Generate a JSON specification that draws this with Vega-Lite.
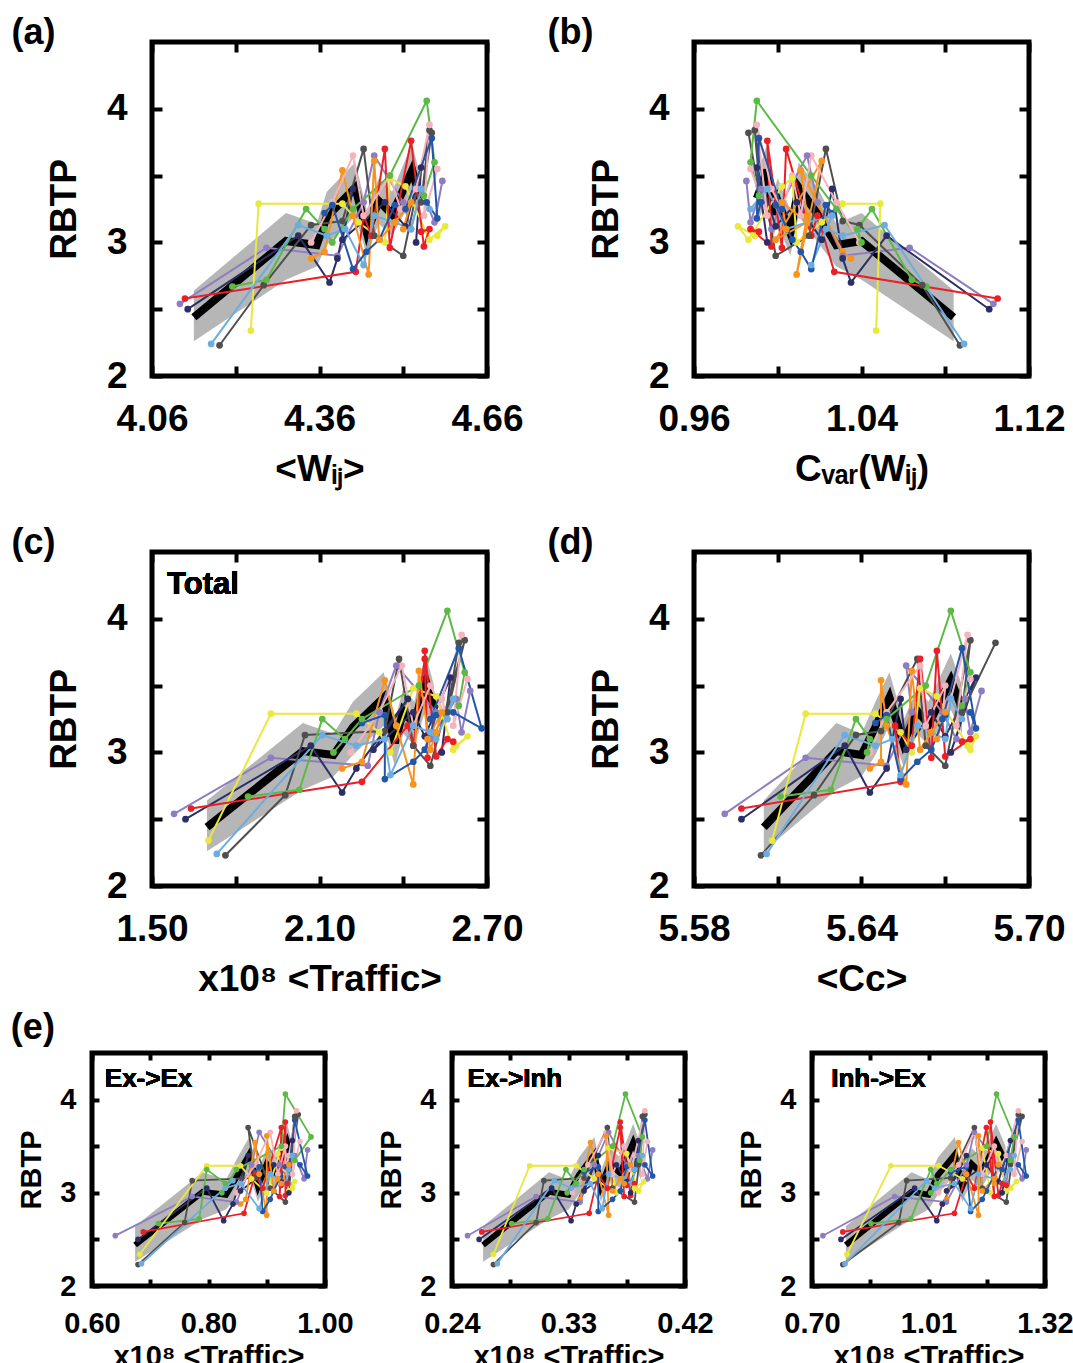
{
"$schema": "https://vega.github.io/schema/vega-lite/v6.json",
"background": "white",
"padding": {"left": 8, "top": 12, "right": 0, "bottom": 0},
"config": {
  "view": {"stroke": "black", "strokeWidth": 5},
  "font": "Liberation Sans",
  "axis": {"labelFont": "Liberation Sans", "titleFont": "Liberation Sans", "labelFontWeight": "bold", "titleFontWeight": "bold", "labelColor": "black", "titleColor": "black", "grid": false, "domain": false, "tickColor": "black", "tickWidth": 4, "tickSize": -10, "labelFlush": false, "labelOverlap": false, "labelFontSize": 37, "titleFontSize": 37, "minExtent": 0},
  "axisX": {"labelPadding": 35, "titlePadding": 14},
  "axisY": {"labelPadding": 35, "titlePadding": 23},
  "title": {"font": "Liberation Sans", "fontWeight": "bold", "color": "black"}
},
"datasets": {
"s": [
{"s":"purple","d":1,"y":2.54,"xa":4.110,"xb":1.103,"xc":1.579,"xd":5.591,"x1":0.640,"x2":0.252,"x3":0.729},
{"s":"purple","d":2,"y":2.96,"xa":4.265,"xb":1.063,"xc":1.926,"xd":5.620,"x1":0.772,"x2":0.305,"x3":0.920},
{"s":"purple","d":3,"y":2.90,"xa":4.392,"xb":1.031,"xc":2.273,"xd":5.649,"x1":0.848,"x2":0.339,"x3":1.058},
{"s":"purple","d":4,"y":3.30,"xa":4.439,"xb":1.019,"xc":2.314,"xd":5.658,"x1":0.874,"x2":0.350,"x3":1.111},
{"s":"purple","d":5,"y":3.65,"xa":4.458,"xb":1.014,"xc":2.375,"xd":5.656,"x1":0.887,"x2":0.361,"x3":1.132},
{"s":"purple","d":6,"y":3.30,"xa":4.510,"xb":1.002,"xc":2.518,"xd":5.669,"x1":0.922,"x2":0.375,"x3":1.196},
{"s":"purple","d":7,"y":3.10,"xa":4.524,"xb":0.997,"xc":2.497,"xd":5.674,"x1":0.938,"x2":0.378,"x3":1.217},
{"s":"purple","d":8,"y":3.40,"xa":4.542,"xb":0.992,"xc":2.589,"xd":5.677,"x1":0.948,"x2":0.384,"x3":1.228},
{"s":"purple","d":9,"y":3.15,"xa":4.566,"xb":0.987,"xc":2.609,"xd":5.679,"x1":0.964,"x2":0.391,"x3":1.259},
{"s":"purple","d":10,"y":3.46,"xa":4.580,"xb":0.985,"xc":2.640,"xd":5.683,"x1":0.970,"x2":0.395,"x3":1.270},
{"s":"navy","d":1,"y":2.50,"xa":4.124,"xb":1.101,"xc":1.620,"xd":5.597,"x1":0.679,"x2":0.261,"x3":0.777},
{"s":"navy","d":2,"y":3.05,"xa":4.322,"xb":1.052,"xc":2.069,"xd":5.634,"x1":0.797,"x2":0.317,"x3":0.973},
{"s":"navy","d":3,"y":2.70,"xa":4.378,"xb":1.035,"xc":2.181,"xd":5.643,"x1":0.826,"x2":0.332,"x3":1.032},
{"s":"navy","d":4,"y":2.88,"xa":4.392,"xb":1.031,"xc":2.232,"xd":5.649,"x1":0.842,"x2":0.336,"x3":1.047},
{"s":"navy","d":5,"y":3.40,"xa":4.420,"xb":1.026,"xc":2.416,"xd":5.654,"x1":0.868,"x2":0.353,"x3":1.111},
{"s":"navy","d":6,"y":3.02,"xa":4.401,"xb":1.021,"xc":2.293,"xd":5.656,"x1":0.855,"x2":0.342,"x3":1.058},
{"s":"navy","d":7,"y":3.30,"xa":4.477,"xb":1.009,"xc":2.436,"xd":5.665,"x1":0.912,"x2":0.367,"x3":1.164},
{"s":"navy","d":8,"y":3.12,"xa":4.514,"xb":0.999,"xc":2.477,"xd":5.670,"x1":0.925,"x2":0.375,"x3":1.196},
{"s":"navy","d":9,"y":3.56,"xa":4.542,"xb":0.990,"xc":2.569,"xd":5.681,"x1":0.944,"x2":0.384,"x3":1.228},
{"s":"navy","d":10,"y":3.00,"xa":4.533,"xb":0.995,"xc":2.538,"xd":5.672,"x1":0.938,"x2":0.378,"x3":1.206},
{"s":"dgray","d":1,"y":2.23,"xa":4.181,"xb":1.087,"xc":1.763,"xd":5.604,"x1":0.679,"x2":0.272,"x3":0.782},
{"s":"dgray","d":2,"y":2.68,"xa":4.260,"xb":1.069,"xc":1.977,"xd":5.623,"x1":0.759,"x2":0.305,"x3":0.931},
{"s":"dgray","d":3,"y":3.13,"xa":4.345,"xb":1.039,"xc":2.048,"xd":5.638,"x1":0.772,"x2":0.311,"x3":0.952},
{"s":"dgray","d":4,"y":3.16,"xa":4.401,"xb":1.031,"xc":2.334,"xd":5.647,"x1":0.880,"x2":0.342,"x3":1.069},
{"s":"dgray","d":5,"y":3.70,"xa":4.439,"xb":1.023,"xc":2.385,"xd":5.660,"x1":0.868,"x2":0.360,"x3":1.132},
{"s":"dgray","d":6,"y":3.05,"xa":4.458,"xb":1.015,"xc":2.436,"xd":5.663,"x1":0.906,"x2":0.364,"x3":1.153},
{"s":"dgray","d":7,"y":2.90,"xa":4.510,"xb":0.999,"xc":2.497,"xd":5.670,"x1":0.932,"x2":0.381,"x3":1.217},
{"s":"dgray","d":8,"y":3.84,"xa":4.557,"xb":0.989,"xc":2.620,"xd":5.679,"x1":0.954,"x2":0.389,"x3":1.249},
{"s":"dgray","d":9,"y":3.30,"xa":4.542,"xb":0.992,"xc":2.558,"xd":5.676,"x1":0.938,"x2":0.384,"x3":1.228},
{"s":"dgray","d":10,"y":3.82,"xa":4.561,"xb":0.986,"xc":2.599,"xd":5.688,"x1":0.948,"x2":0.387,"x3":1.259},
{"s":"green","d":1,"y":2.67,"xa":4.204,"xb":1.071,"xc":1.844,"xd":5.611,"x1":0.714,"x2":0.286,"x3":0.857},
{"s":"green","d":2,"y":2.72,"xa":4.265,"xb":1.064,"xc":2.028,"xd":5.629,"x1":0.784,"x2":0.314,"x3":0.963},
{"s":"green","d":3,"y":3.25,"xa":4.336,"xb":1.045,"xc":2.110,"xd":5.638,"x1":0.797,"x2":0.328,"x3":1.016},
{"s":"green","d":4,"y":3.10,"xa":4.369,"xb":1.038,"xc":2.191,"xd":5.643,"x1":0.829,"x2":0.336,"x3":1.032},
{"s":"green","d":5,"y":3.00,"xa":4.383,"xb":1.040,"xc":2.150,"xd":5.642,"x1":0.823,"x2":0.329,"x3":1.016},
{"s":"green","d":6,"y":3.25,"xa":4.420,"xb":1.028,"xc":2.252,"xd":5.649,"x1":0.848,"x2":0.342,"x3":1.069},
{"s":"green","d":7,"y":3.50,"xa":4.486,"xb":1.016,"xc":2.456,"xd":5.663,"x1":0.925,"x2":0.364,"x3":1.164},
{"s":"green","d":8,"y":4.06,"xa":4.552,"xb":0.990,"xc":2.558,"xd":5.672,"x1":0.932,"x2":0.374,"x3":1.191},
{"s":"green","d":9,"y":3.60,"xa":4.566,"xb":0.987,"xc":2.620,"xd":5.679,"x1":0.976,"x2":0.387,"x3":1.238},
{"s":"green","d":10,"y":3.35,"xa":4.547,"xb":0.991,"xc":2.599,"xd":5.676,"x1":0.948,"x2":0.385,"x3":1.228},
{"s":"yellow","d":1,"y":2.34,"xa":4.237,"xb":1.047,"xc":1.702,"xd":5.608,"x1":0.682,"x2":0.272,"x3":0.793},
{"s":"yellow","d":2,"y":3.29,"xa":4.251,"xb":1.049,"xc":1.926,"xd":5.620,"x1":0.797,"x2":0.300,"x3":0.910},
{"s":"yellow","d":3,"y":3.29,"xa":4.401,"xb":1.031,"xc":2.232,"xd":5.645,"x1":0.855,"x2":0.336,"x3":1.037},
{"s":"yellow","d":4,"y":3.15,"xa":4.430,"xb":1.021,"xc":2.314,"xd":5.654,"x1":0.874,"x2":0.350,"x3":1.100},
{"s":"yellow","d":5,"y":3.00,"xa":4.477,"xb":1.009,"xc":2.354,"xd":5.658,"x1":0.900,"x2":0.367,"x3":1.175},
{"s":"yellow","d":6,"y":3.48,"xa":4.486,"xb":1.007,"xc":2.436,"xd":5.661,"x1":0.925,"x2":0.361,"x3":1.153},
{"s":"yellow","d":7,"y":3.42,"xa":4.514,"xb":1.002,"xc":2.518,"xd":5.667,"x1":0.919,"x2":0.375,"x3":1.196},
{"s":"yellow","d":8,"y":3.02,"xa":4.557,"xb":0.986,"xc":2.579,"xd":5.679,"x1":0.938,"x2":0.384,"x3":1.217},
{"s":"yellow","d":9,"y":3.12,"xa":4.585,"xb":0.981,"xc":2.630,"xd":5.681,"x1":0.948,"x2":0.388,"x3":1.244},
{"s":"yellow","d":10,"y":3.05,"xa":4.571,"xb":0.989,"xc":2.589,"xd":5.678,"x1":0.944,"x2":0.381,"x3":1.228},
{"s":"red","d":1,"y":2.58,"xa":4.119,"xb":1.105,"xc":1.640,"xd":5.597,"x1":0.688,"x2":0.263,"x3":0.782},
{"s":"red","d":2,"y":2.78,"xa":4.425,"xb":1.027,"xc":2.252,"xd":5.654,"x1":0.861,"x2":0.346,"x3":1.079},
{"s":"red","d":3,"y":3.20,"xa":4.439,"xb":1.019,"xc":2.416,"xd":5.652,"x1":0.880,"x2":0.353,"x3":1.111},
{"s":"red","d":4,"y":3.05,"xa":4.453,"xb":1.016,"xc":2.436,"xd":5.658,"x1":0.893,"x2":0.360,"x3":1.132},
{"s":"red","d":5,"y":3.70,"xa":4.477,"xb":1.004,"xc":2.477,"xd":5.661,"x1":0.925,"x2":0.370,"x3":1.164},
{"s":"red","d":6,"y":2.96,"xa":4.486,"xb":1.002,"xc":2.487,"xd":5.665,"x1":0.922,"x2":0.373,"x3":1.185},
{"s":"red","d":7,"y":3.76,"xa":4.524,"xb":0.995,"xc":2.477,"xd":5.667,"x1":0.932,"x2":0.370,"x3":1.175},
{"s":"red","d":8,"y":2.97,"xa":4.547,"xb":0.997,"xc":2.518,"xd":5.670,"x1":0.932,"x2":0.378,"x3":1.196},
{"s":"red","d":9,"y":3.10,"xa":4.557,"xb":0.987,"xc":2.558,"xd":5.679,"x1":0.935,"x2":0.381,"x3":1.206},
{"s":"red","d":10,"y":3.08,"xa":4.542,"xb":0.991,"xc":2.579,"xd":5.676,"x1":0.925,"x2":0.375,"x3":1.217},
{"s":"orange","d":1,"y":2.88,"xa":4.345,"xb":1.035,"xc":2.181,"xd":5.643,"x1":0.855,"x2":0.336,"x3":1.047},
{"s":"orange","d":2,"y":2.93,"xa":4.369,"xb":1.031,"xc":2.252,"xd":5.647,"x1":0.864,"x2":0.339,"x3":1.058},
{"s":"orange","d":3,"y":3.54,"xa":4.401,"xb":1.011,"xc":2.334,"xd":5.647,"x1":0.880,"x2":0.347,"x3":1.090},
{"s":"orange","d":4,"y":3.20,"xa":4.420,"xb":1.014,"xc":2.375,"xd":5.649,"x1":0.887,"x2":0.353,"x3":1.111},
{"s":"orange","d":5,"y":2.76,"xa":4.448,"xb":1.009,"xc":2.436,"xd":5.656,"x1":0.900,"x2":0.361,"x3":1.143},
{"s":"orange","d":6,"y":3.61,"xa":4.458,"xb":1.021,"xc":2.456,"xd":5.658,"x1":0.900,"x2":0.359,"x3":1.143},
{"s":"orange","d":7,"y":3.02,"xa":4.467,"xb":0.999,"xc":2.497,"xd":5.661,"x1":0.912,"x2":0.364,"x3":1.153},
{"s":"orange","d":8,"y":3.15,"xa":4.495,"xb":1.014,"xc":2.518,"xd":5.665,"x1":0.919,"x2":0.370,"x3":1.185},
{"s":"orange","d":9,"y":3.30,"xa":4.524,"xb":1.002,"xc":2.538,"xd":5.670,"x1":0.938,"x2":0.378,"x3":1.196},
{"s":"orange","d":10,"y":3.10,"xa":4.510,"xb":1.004,"xc":2.487,"xd":5.667,"x1":0.925,"x2":0.373,"x3":1.185},
{"s":"pink","d":1,"y":3.00,"xa":4.345,"xb":1.039,"xc":2.212,"xd":5.643,"x1":0.848,"x2":0.333,"x3":1.037},
{"s":"pink","d":2,"y":3.30,"xa":4.383,"xb":1.028,"xc":2.314,"xd":5.649,"x1":0.880,"x2":0.345,"x3":1.090},
{"s":"pink","d":3,"y":3.65,"xa":4.420,"xb":1.016,"xc":2.395,"xd":5.661,"x1":0.906,"x2":0.359,"x3":1.132},
{"s":"pink","d":4,"y":3.20,"xa":4.439,"xb":1.011,"xc":2.436,"xd":5.663,"x1":0.919,"x2":0.364,"x3":1.153},
{"s":"pink","d":5,"y":3.50,"xa":4.486,"xb":1.007,"xc":2.497,"xd":5.670,"x1":0.932,"x2":0.373,"x3":1.185},
{"s":"pink","d":6,"y":3.25,"xa":4.505,"xb":1.002,"xc":2.558,"xd":5.669,"x1":0.932,"x2":0.378,"x3":1.196},
{"s":"pink","d":7,"y":3.40,"xa":4.533,"xb":0.997,"xc":2.538,"xd":5.672,"x1":0.938,"x2":0.381,"x3":1.217},
{"s":"pink","d":8,"y":3.88,"xa":4.557,"xb":0.990,"xc":2.609,"xd":5.678,"x1":0.951,"x2":0.389,"x3":1.249},
{"s":"pink","d":9,"y":3.20,"xa":4.547,"xb":0.995,"xc":2.579,"xd":5.674,"x1":0.944,"x2":0.387,"x3":1.238},
{"s":"pink","d":10,"y":3.55,"xa":4.571,"xb":0.987,"xc":2.630,"xd":5.679,"x1":0.957,"x2":0.391,"x3":1.259},
{"s":"lblue","d":1,"y":2.24,"xa":4.166,"xb":1.089,"xc":1.732,"xd":5.606,"x1":0.685,"x2":0.275,"x3":0.788},
{"s":"lblue","d":2,"y":3.13,"xa":4.322,"xb":1.051,"xc":2.110,"xd":5.634,"x1":0.842,"x2":0.319,"x3":1.005},
{"s":"lblue","d":3,"y":3.05,"xa":4.373,"xb":1.031,"xc":2.232,"xd":5.645,"x1":0.829,"x2":0.332,"x3":1.026},
{"s":"lblue","d":4,"y":3.10,"xa":4.406,"xb":1.023,"xc":2.334,"xd":5.651,"x1":0.855,"x2":0.347,"x3":1.079},
{"s":"lblue","d":5,"y":2.83,"xa":4.439,"xb":1.016,"xc":2.354,"xd":5.654,"x1":0.887,"x2":0.356,"x3":1.122},
{"s":"lblue","d":6,"y":3.20,"xa":4.458,"xb":1.026,"xc":2.436,"xd":5.660,"x1":0.906,"x2":0.361,"x3":1.143},
{"s":"lblue","d":7,"y":3.15,"xa":4.495,"xb":1.014,"xc":2.497,"xd":5.665,"x1":0.919,"x2":0.373,"x3":1.185},
{"s":"lblue","d":8,"y":3.10,"xa":4.524,"xb":1.004,"xc":2.518,"xd":5.670,"x1":0.932,"x2":0.378,"x3":1.206},
{"s":"lblue","d":9,"y":3.40,"xa":4.542,"xb":0.995,"xc":2.579,"xd":5.672,"x1":0.944,"x2":0.387,"x3":1.238},
{"s":"lblue","d":10,"y":3.25,"xa":4.557,"xb":0.987,"xc":2.558,"xd":5.676,"x1":0.938,"x2":0.381,"x3":1.228},
{"s":"blue","d":1,"y":3.22,"xa":4.369,"xb":1.026,"xc":2.252,"xd":5.645,"x1":0.880,"x2":0.342,"x3":1.069},
{"s":"blue","d":2,"y":3.28,"xa":4.383,"xb":1.023,"xc":2.334,"xd":5.649,"x1":0.887,"x2":0.353,"x3":1.111},
{"s":"blue","d":3,"y":2.80,"xa":4.420,"xb":1.016,"xc":2.334,"xd":5.654,"x1":0.893,"x2":0.353,"x3":1.122},
{"s":"blue","d":4,"y":2.93,"xa":4.444,"xb":1.011,"xc":2.436,"xd":5.660,"x1":0.906,"x2":0.364,"x3":1.153},
{"s":"blue","d":5,"y":3.02,"xa":4.467,"xb":1.007,"xc":2.477,"xd":5.665,"x1":0.912,"x2":0.370,"x3":1.164},
{"s":"blue","d":6,"y":3.28,"xa":4.495,"xb":0.999,"xc":2.518,"xd":5.670,"x1":0.932,"x2":0.375,"x3":1.196},
{"s":"blue","d":7,"y":3.25,"xa":4.514,"xb":1.002,"xc":2.497,"xd":5.669,"x1":0.938,"x2":0.381,"x3":1.206},
{"s":"blue","d":8,"y":3.78,"xa":4.561,"xb":0.991,"xc":2.599,"xd":5.676,"x1":0.948,"x2":0.389,"x3":1.249},
{"s":"blue","d":9,"y":3.18,"xa":4.571,"xb":0.990,"xc":2.681,"xd":5.681,"x1":0.970,"x2":0.395,"x3":1.270},
{"s":"blue","d":10,"y":3.30,"xa":4.552,"xb":0.992,"xc":2.579,"xd":5.679,"x1":0.957,"x2":0.389,"x3":1.249}
],
"m": [
{"d":1,"y":2.44,"lo":2.26,"hi":2.64,"xa":4.135,"xb":1.084,"xc":1.697,"xd":5.605,"x1":0.674,"x2":0.264,"x3":0.790},
{"d":2,"y":3.01,"lo":2.72,"hi":3.22,"xa":4.300,"xb":1.040,"xc":2.040,"xd":5.631,"x1":0.790,"x2":0.315,"x3":0.965},
{"d":3,"y":2.98,"lo":2.82,"hi":3.14,"xa":4.355,"xb":1.028,"xc":2.150,"xd":5.640,"x1":0.830,"x2":0.330,"x3":1.010},
{"d":4,"y":3.19,"lo":2.98,"hi":3.38,"xa":4.373,"xb":1.020,"xc":2.220,"xd":5.645,"x1":0.850,"x2":0.338,"x3":1.035},
{"d":5,"y":3.41,"lo":3.20,"hi":3.60,"xa":4.424,"xb":1.010,"xc":2.330,"xd":5.650,"x1":0.870,"x2":0.350,"x3":1.080},
{"d":6,"y":3.07,"lo":2.90,"hi":3.24,"xa":4.445,"xb":1.006,"xc":2.370,"xd":5.655,"x1":0.885,"x2":0.355,"x3":1.100},
{"d":7,"y":3.31,"lo":3.14,"hi":3.48,"xa":4.466,"xb":1.000,"xc":2.400,"xd":5.660,"x1":0.900,"x2":0.362,"x3":1.125},
{"d":8,"y":3.21,"lo":3.05,"hi":3.38,"xa":4.490,"xb":0.998,"xc":2.440,"xd":5.664,"x1":0.915,"x2":0.370,"x3":1.150},
{"d":9,"y":3.54,"lo":3.32,"hi":3.74,"xa":4.526,"xb":0.995,"xc":2.480,"xd":5.672,"x1":0.935,"x2":0.380,"x3":1.190},
{"d":10,"y":3.33,"lo":3.14,"hi":3.50,"xa":4.540,"xb":0.990,"xc":2.510,"xd":5.676,"x1":0.945,"x2":0.386,"x3":1.215}
]
},
"spacing": -20,
"vconcat": [
{"hconcat": [
 {"width": 1, "height": 500, "data": {"values": [{"v": 0}]}, "mark": {"type": "point", "opacity": 0}, "encoding": {}, "view": {"stroke": null}},
 {"hconcat": [
 {"width": 335, "height": 334,
  "title": {"text": "(a)", "anchor": "start", "align": "left", "dx": -34, "baseline": "alphabetic", "offset": 0, "dy": 40, "fontSize": 36},
  "layer": [
   {"data": {"name": "m"}, "mark": {"type": "area", "color": "#b2b2b2", "opacity": 0.95},
    "encoding": {
     "x": {"field": "xa", "type": "quantitative", "scale": {"domain": [4.06, 4.66], "nice": false}, "axis": {"orient": "bottom", "values": [4.06, 4.21, 4.36, 4.51, 4.66], "labelExpr": "round(datum.index*4) % 2 == 0 ? format(datum.value, '.2f') : ''", "title": "<Wᵢⱼ>"}},
     "y": {"field": "lo", "type": "quantitative", "scale": {"domain": [2, 4.5], "nice": false}, "axis": {"orient": "left", "values": [2, 2.5, 3, 3.5, 4], "labelExpr": "datum.value % 1 == 0 ? format(datum.value, 'd') : ''", "title": "RBTP"}},
     "y2": {"field": "hi"}}},
   {"data": {"name": "m"}, "mark": {"type": "line", "color": "black", "strokeWidth": 8},
    "encoding": {
     "x": {"field": "xa", "type": "quantitative", "scale": {"domain": [4.06, 4.66], "nice": false}, "axis": {"orient": "top", "values": [4.06, 4.21, 4.36, 4.51, 4.66], "labels": false, "title": null}},
     "y": {"field": "y", "type": "quantitative", "scale": {"domain": [2, 4.5], "nice": false}, "axis": {"orient": "right", "values": [2, 2.5, 3, 3.5, 4], "labels": false, "title": null}},
     "order": {"field": "d"}}},
   {"data": {"name": "s"}, "mark": {"type": "line", "strokeWidth": 2, "point": {"filled": true, "size": 45}},
    "encoding": {
     "x": {"field": "xa", "type": "quantitative", "axis": null},
     "y": {"field": "y", "type": "quantitative", "axis": null},
     "color": {"field": "s", "type": "nominal", "legend": null, "scale": {"domain": ["purple","navy","dgray","green","yellow","red","orange","pink","lblue","blue"], "range": ["#8f7dc2","#2c2f66","#4f4f4f","#5cb946","#e9e83c","#ec1f26","#f7941e","#f5b3bd","#6badE0","#2356a7"]}},
     "order": {"field": "d"}}}
  ],
  "resolve": {"axis": {"x": "independent", "y": "independent"}}},
 {"width": 335, "height": 334,
  "title": {"text": "(b)", "anchor": "start", "align": "left", "dx": -40, "baseline": "alphabetic", "offset": 0, "dy": 40, "fontSize": 36},
  "layer": [
   {"data": {"name": "m"}, "mark": {"type": "area", "color": "#b2b2b2", "opacity": 0.95},
    "encoding": {
     "x": {"field": "xb", "type": "quantitative", "scale": {"domain": [0.96, 1.12], "nice": false}, "axis": {"orient": "bottom", "values": [0.96, 1.0, 1.04, 1.08, 1.12], "labelExpr": "round(datum.index*4) % 2 == 0 ? format(datum.value, '.2f') : ''", "title": "Cᵥₐᵣ(Wᵢⱼ)"}},
     "y": {"field": "lo", "type": "quantitative", "scale": {"domain": [2, 4.5], "nice": false}, "axis": {"orient": "left", "values": [2, 2.5, 3, 3.5, 4], "labelExpr": "datum.value % 1 == 0 ? format(datum.value, 'd') : ''", "title": "RBTP"}},
     "y2": {"field": "hi"}}},
   {"data": {"name": "m"}, "mark": {"type": "line", "color": "black", "strokeWidth": 8},
    "encoding": {
     "x": {"field": "xb", "type": "quantitative", "scale": {"domain": [0.96, 1.12], "nice": false}, "axis": {"orient": "top", "values": [0.96, 1.0, 1.04, 1.08, 1.12], "labels": false, "title": null}},
     "y": {"field": "y", "type": "quantitative", "scale": {"domain": [2, 4.5], "nice": false}, "axis": {"orient": "right", "values": [2, 2.5, 3, 3.5, 4], "labels": false, "title": null}},
     "order": {"field": "d"}}},
   {"data": {"name": "s"}, "mark": {"type": "line", "strokeWidth": 2, "point": {"filled": true, "size": 45}},
    "encoding": {
     "x": {"field": "xb", "type": "quantitative", "axis": null},
     "y": {"field": "y", "type": "quantitative", "axis": null},
     "color": {"field": "s", "type": "nominal", "legend": null, "scale": {"domain": ["purple","navy","dgray","green","yellow","red","orange","pink","lblue","blue"], "range": ["#8f7dc2","#2c2f66","#4f4f4f","#5cb946","#e9e83c","#ec1f26","#f7941e","#f5b3bd","#6badE0","#2356a7"]}},
     "order": {"field": "d"}}}
  ],
  "resolve": {"axis": {"x": "independent", "y": "independent"}}}
 ], "spacing": 207, "bounds": "flush"}
 ], "spacing": 59, "bounds": "flush"},
{"hconcat": [
 {"width": 1, "height": 475, "data": {"values": [{"v": 0}]}, "mark": {"type": "point", "opacity": 0}, "encoding": {}, "view": {"stroke": null}},
 {"hconcat": [
 {"width": 335, "height": 334,
  "title": {"text": "(c)", "anchor": "start", "align": "left", "dx": -34, "baseline": "alphabetic", "offset": 0, "dy": 40, "fontSize": 36},
  "layer": [
   {"data": {"name": "m"}, "mark": {"type": "area", "color": "#b2b2b2", "opacity": 0.95},
    "encoding": {
     "x": {"field": "xc", "type": "quantitative", "scale": {"domain": [1.5, 2.7], "nice": false}, "axis": {"orient": "bottom", "values": [1.5, 1.8, 2.1, 2.4, 2.7], "labelExpr": "round(datum.index*4) % 2 == 0 ? format(datum.value, '.2f') : ''", "title": "x10⁸ <Traffic>"}},
     "y": {"field": "lo", "type": "quantitative", "scale": {"domain": [2, 4.5], "nice": false}, "axis": {"orient": "left", "values": [2, 2.5, 3, 3.5, 4], "labelExpr": "datum.value % 1 == 0 ? format(datum.value, 'd') : ''", "title": "RBTP"}},
     "y2": {"field": "hi"}}},
   {"data": {"name": "m"}, "mark": {"type": "line", "color": "black", "strokeWidth": 8},
    "encoding": {
     "x": {"field": "xc", "type": "quantitative", "scale": {"domain": [1.5, 2.7], "nice": false}, "axis": {"orient": "top", "values": [1.5, 1.8, 2.1, 2.4, 2.7], "labels": false, "title": null}},
     "y": {"field": "y", "type": "quantitative", "scale": {"domain": [2, 4.5], "nice": false}, "axis": {"orient": "right", "values": [2, 2.5, 3, 3.5, 4], "labels": false, "title": null}},
     "order": {"field": "d"}}},
   {"data": {"name": "s"}, "mark": {"type": "line", "strokeWidth": 2, "point": {"filled": true, "size": 45}},
    "encoding": {
     "x": {"field": "xc", "type": "quantitative", "axis": null},
     "y": {"field": "y", "type": "quantitative", "axis": null},
     "color": {"field": "s", "type": "nominal", "legend": null, "scale": {"domain": ["purple","navy","dgray","green","yellow","red","orange","pink","lblue","blue"], "range": ["#8f7dc2","#2c2f66","#4f4f4f","#5cb946","#e9e83c","#ec1f26","#f7941e","#f5b3bd","#6badE0","#2356a7"]}},
     "order": {"field": "d"}}},
   {"data": {"name": "m"}, "mark": {"type": "text", "text": "Total", "align": "left", "baseline": "middle", "fontSize": 31, "fontWeight": "bold", "font": "Liberation Sans", "color": "black"},
    "encoding": {"x": {"datum": 1.554, "type": "quantitative", "axis": null}, "y": {"datum": 4.25, "type": "quantitative", "axis": null}}}
  ],
  "resolve": {"axis": {"x": "independent", "y": "independent"}}},
 {"width": 335, "height": 334,
  "title": {"text": "(d)", "anchor": "start", "align": "left", "dx": -40, "baseline": "alphabetic", "offset": 0, "dy": 40, "fontSize": 36},
  "layer": [
   {"data": {"name": "m"}, "mark": {"type": "area", "color": "#b2b2b2", "opacity": 0.95},
    "encoding": {
     "x": {"field": "xd", "type": "quantitative", "scale": {"domain": [5.58, 5.70], "nice": false}, "axis": {"orient": "bottom", "values": [5.58, 5.61, 5.64, 5.67, 5.70], "labelExpr": "round(datum.index*4) % 2 == 0 ? format(datum.value, '.2f') : ''", "title": "<Cᴄ>"}},
     "y": {"field": "lo", "type": "quantitative", "scale": {"domain": [2, 4.5], "nice": false}, "axis": {"orient": "left", "values": [2, 2.5, 3, 3.5, 4], "labelExpr": "datum.value % 1 == 0 ? format(datum.value, 'd') : ''", "title": "RBTP"}},
     "y2": {"field": "hi"}}},
   {"data": {"name": "m"}, "mark": {"type": "line", "color": "black", "strokeWidth": 8},
    "encoding": {
     "x": {"field": "xd", "type": "quantitative", "scale": {"domain": [5.58, 5.70], "nice": false}, "axis": {"orient": "top", "values": [5.58, 5.61, 5.64, 5.67, 5.70], "labels": false, "title": null}},
     "y": {"field": "y", "type": "quantitative", "scale": {"domain": [2, 4.5], "nice": false}, "axis": {"orient": "right", "values": [2, 2.5, 3, 3.5, 4], "labels": false, "title": null}},
     "order": {"field": "d"}}},
   {"data": {"name": "s"}, "mark": {"type": "line", "strokeWidth": 2, "point": {"filled": true, "size": 45}},
    "encoding": {
     "x": {"field": "xd", "type": "quantitative", "axis": null},
     "y": {"field": "y", "type": "quantitative", "axis": null},
     "color": {"field": "s", "type": "nominal", "legend": null, "scale": {"domain": ["purple","navy","dgray","green","yellow","red","orange","pink","lblue","blue"], "range": ["#8f7dc2","#2c2f66","#4f4f4f","#5cb946","#e9e83c","#ec1f26","#f7941e","#f5b3bd","#6badE0","#2356a7"]}},
     "order": {"field": "d"}}}
  ],
  "resolve": {"axis": {"x": "independent", "y": "independent"}}}
 ], "spacing": 207, "bounds": "flush"}
 ], "spacing": 59, "bounds": "flush"},
{"hconcat": [
 {"width": 233, "height": 233,
  "title": {"text": "(e)", "anchor": "start", "align": "left", "dx": -7, "baseline": "alphabetic", "offset": 0, "dy": 24, "fontSize": 36},
  "layer": [
   {"data": {"name": "m"}, "mark": {"type": "area", "color": "#b2b2b2", "opacity": 0.95},
    "encoding": {
     "x": {"field": "x1", "type": "quantitative", "scale": {"domain": [0.6, 1.0], "nice": false}, "axis": {"orient": "bottom", "values": [0.6, 0.7, 0.8, 0.9, 1.0], "labelExpr": "round(datum.index*4) % 2 == 0 ? format(datum.value, '.2f') : ''", "title": "x10⁸ <Traffic>", "labelFontSize": 29, "titleFontSize": 29, "tickSize": -7, "labelPadding": 30, "titlePadding": 4}},
     "y": {"field": "lo", "type": "quantitative", "scale": {"domain": [2, 4.5], "nice": false}, "axis": {"orient": "left", "values": [2, 2.5, 3, 3.5, 4], "labelExpr": "datum.value % 1 == 0 ? format(datum.value, 'd') : ''", "title": "RBTP", "labelFontSize": 29, "titleFontSize": 29, "tickSize": -7, "labelPadding": 23, "titlePadding": 13}},
     "y2": {"field": "hi"}}},
   {"data": {"name": "m"}, "mark": {"type": "line", "color": "black", "strokeWidth": 6},
    "encoding": {
     "x": {"field": "x1", "type": "quantitative", "scale": {"domain": [0.6, 1.0], "nice": false}, "axis": {"orient": "top", "values": [0.6, 0.7, 0.8, 0.9, 1.0], "labels": false, "title": null, "tickSize": -7}},
     "y": {"field": "y", "type": "quantitative", "scale": {"domain": [2, 4.5], "nice": false}, "axis": {"orient": "right", "values": [2, 2.5, 3, 3.5, 4], "labels": false, "title": null, "tickSize": -7}},
     "order": {"field": "d"}}},
   {"data": {"name": "s"}, "mark": {"type": "line", "strokeWidth": 1.8, "point": {"filled": true, "size": 32}},
    "encoding": {
     "x": {"field": "x1", "type": "quantitative", "axis": null},
     "y": {"field": "y", "type": "quantitative", "axis": null},
     "color": {"field": "s", "type": "nominal", "legend": null, "scale": {"domain": ["purple","navy","dgray","green","yellow","red","orange","pink","lblue","blue"], "range": ["#8f7dc2","#2c2f66","#4f4f4f","#5cb946","#e9e83c","#ec1f26","#f7941e","#f5b3bd","#6badE0","#2356a7"]}},
     "order": {"field": "d"}}},
   {"data": {"name": "m"}, "mark": {"type": "text", "text": "Ex->Ex", "align": "left", "baseline": "middle", "fontSize": 26, "fontWeight": "bold", "font": "Liberation Sans", "color": "black"},
    "encoding": {"x": {"datum": 0.622, "type": "quantitative", "axis": null}, "y": {"datum": 4.22, "type": "quantitative", "axis": null}}}
  ],
  "resolve": {"axis": {"x": "independent", "y": "independent"}}},
 {"width": 233, "height": 233,
  "layer": [
   {"data": {"name": "m"}, "mark": {"type": "area", "color": "#b2b2b2", "opacity": 0.95},
    "encoding": {
     "x": {"field": "x2", "type": "quantitative", "scale": {"domain": [0.24, 0.42], "nice": false}, "axis": {"orient": "bottom", "values": [0.24, 0.285, 0.33, 0.375, 0.42], "labelExpr": "round(datum.index*4) % 2 == 0 ? format(datum.value, '.2f') : ''", "title": "x10⁸ <Traffic>", "labelFontSize": 29, "titleFontSize": 29, "tickSize": -7, "labelPadding": 30, "titlePadding": 4}},
     "y": {"field": "lo", "type": "quantitative", "scale": {"domain": [2, 4.5], "nice": false}, "axis": {"orient": "left", "values": [2, 2.5, 3, 3.5, 4], "labelExpr": "datum.value % 1 == 0 ? format(datum.value, 'd') : ''", "title": "RBTP", "labelFontSize": 29, "titleFontSize": 29, "tickSize": -7, "labelPadding": 23, "titlePadding": 13}},
     "y2": {"field": "hi"}}},
   {"data": {"name": "m"}, "mark": {"type": "line", "color": "black", "strokeWidth": 6},
    "encoding": {
     "x": {"field": "x2", "type": "quantitative", "scale": {"domain": [0.24, 0.42], "nice": false}, "axis": {"orient": "top", "values": [0.24, 0.285, 0.33, 0.375, 0.42], "labels": false, "title": null, "tickSize": -7}},
     "y": {"field": "y", "type": "quantitative", "scale": {"domain": [2, 4.5], "nice": false}, "axis": {"orient": "right", "values": [2, 2.5, 3, 3.5, 4], "labels": false, "title": null, "tickSize": -7}},
     "order": {"field": "d"}}},
   {"data": {"name": "s"}, "mark": {"type": "line", "strokeWidth": 1.8, "point": {"filled": true, "size": 32}},
    "encoding": {
     "x": {"field": "x2", "type": "quantitative", "axis": null},
     "y": {"field": "y", "type": "quantitative", "axis": null},
     "color": {"field": "s", "type": "nominal", "legend": null, "scale": {"domain": ["purple","navy","dgray","green","yellow","red","orange","pink","lblue","blue"], "range": ["#8f7dc2","#2c2f66","#4f4f4f","#5cb946","#e9e83c","#ec1f26","#f7941e","#f5b3bd","#6badE0","#2356a7"]}},
     "order": {"field": "d"}}},
   {"data": {"name": "m"}, "mark": {"type": "text", "text": "Ex->Inh", "align": "left", "baseline": "middle", "fontSize": 26, "fontWeight": "bold", "font": "Liberation Sans", "color": "black"},
    "encoding": {"x": {"datum": 0.252, "type": "quantitative", "axis": null}, "y": {"datum": 4.22, "type": "quantitative", "axis": null}}}
  ],
  "resolve": {"axis": {"x": "independent", "y": "independent"}}},
 {"width": 233, "height": 233,
  "layer": [
   {"data": {"name": "m"}, "mark": {"type": "area", "color": "#b2b2b2", "opacity": 0.95},
    "encoding": {
     "x": {"field": "x3", "type": "quantitative", "scale": {"domain": [0.70, 1.32], "nice": false}, "axis": {"orient": "bottom", "values": [0.70, 0.855, 1.01, 1.165, 1.32], "labelExpr": "round(datum.index*4) % 2 == 0 ? format(datum.value, '.2f') : ''", "title": "x10⁸ <Traffic>", "labelFontSize": 29, "titleFontSize": 29, "tickSize": -7, "labelPadding": 30, "titlePadding": 4}},
     "y": {"field": "lo", "type": "quantitative", "scale": {"domain": [2, 4.5], "nice": false}, "axis": {"orient": "left", "values": [2, 2.5, 3, 3.5, 4], "labelExpr": "datum.value % 1 == 0 ? format(datum.value, 'd') : ''", "title": "RBTP", "labelFontSize": 29, "titleFontSize": 29, "tickSize": -7, "labelPadding": 23, "titlePadding": 13}},
     "y2": {"field": "hi"}}},
   {"data": {"name": "m"}, "mark": {"type": "line", "color": "black", "strokeWidth": 6},
    "encoding": {
     "x": {"field": "x3", "type": "quantitative", "scale": {"domain": [0.70, 1.32], "nice": false}, "axis": {"orient": "top", "values": [0.70, 0.855, 1.01, 1.165, 1.32], "labels": false, "title": null, "tickSize": -7}},
     "y": {"field": "y", "type": "quantitative", "scale": {"domain": [2, 4.5], "nice": false}, "axis": {"orient": "right", "values": [2, 2.5, 3, 3.5, 4], "labels": false, "title": null, "tickSize": -7}},
     "order": {"field": "d"}}},
   {"data": {"name": "s"}, "mark": {"type": "line", "strokeWidth": 1.8, "point": {"filled": true, "size": 32}},
    "encoding": {
     "x": {"field": "x3", "type": "quantitative", "axis": null},
     "y": {"field": "y", "type": "quantitative", "axis": null},
     "color": {"field": "s", "type": "nominal", "legend": null, "scale": {"domain": ["purple","navy","dgray","green","yellow","red","orange","pink","lblue","blue"], "range": ["#8f7dc2","#2c2f66","#4f4f4f","#5cb946","#e9e83c","#ec1f26","#f7941e","#f5b3bd","#6badE0","#2356a7"]}},
     "order": {"field": "d"}}},
   {"data": {"name": "m"}, "mark": {"type": "text", "text": "Inh->Ex", "align": "left", "baseline": "middle", "fontSize": 26, "fontWeight": "bold", "font": "Liberation Sans", "color": "black"},
    "encoding": {"x": {"datum": 0.751, "type": "quantitative", "axis": null}, "y": {"datum": 4.22, "type": "quantitative", "axis": null}}}
  ],
  "resolve": {"axis": {"x": "independent", "y": "independent"}}}
 ], "spacing": 127, "bounds": "flush"}
]
}
